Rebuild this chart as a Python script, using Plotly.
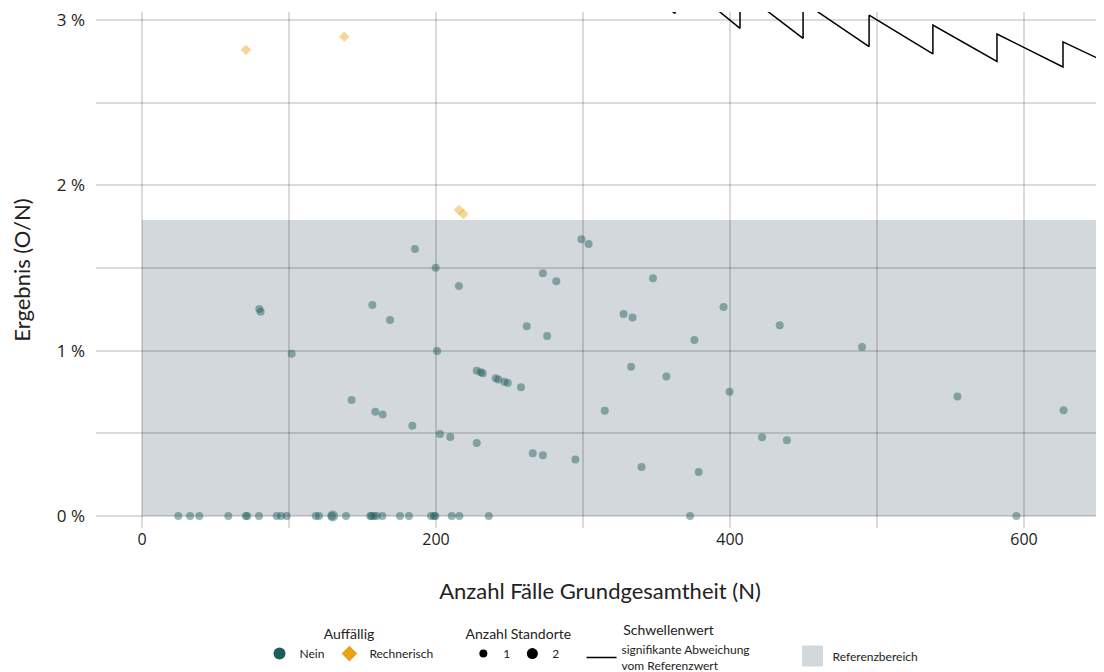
import plotly.graph_objects as go

# Fallzahlen (N) und Ergebnis (O/N in %) je Standort
nein_n = [24.7, 32.7, 39.0, 58.7, 70.6, 71.6, 79.6, 91.6, 94.6, 98.4, 118.2, 120.4, 129.2, 129.7,
          138.8, 155.3, 156.1, 157.8, 159.7, 163.5, 175.5, 181.6, 196.6, 198.6, 199.6, 210.7,
          215.9, 235.9, 372.8, 594.8,
          79.8, 80.7, 101.8, 142.6, 156.7, 158.7, 163.7, 168.7, 183.9, 185.7, 199.8, 200.7,
          202.7, 209.7, 215.6, 227.7, 227.7, 230.4, 231.8, 240.6, 242.4, 246.5, 248.8, 257.8,
          261.7, 265.8, 272.7, 272.7, 275.6, 281.8, 294.8, 298.9, 303.8, 314.8, 327.6, 332.7,
          333.7, 339.8, 347.6, 356.7, 375.8, 378.7, 395.6, 399.7, 421.8, 433.8, 438.7, 489.8,
          554.7, 626.9]
nein_y = [0] * 30 + [
          1.252, 1.236, 0.982, 0.702, 1.276, 0.631, 0.613, 1.186, 0.546, 1.615, 1.502, 0.998,
          0.496, 0.478, 1.391, 0.879, 0.442, 0.869, 0.863, 0.833, 0.825, 0.812, 0.805, 0.778,
          1.148, 0.379, 1.468, 0.367, 1.089, 1.420, 0.341, 1.674, 1.645, 0.637, 1.222, 0.903,
          1.200, 0.296, 1.438, 0.843, 1.065, 0.266, 1.264, 0.752, 0.476, 1.154, 0.458, 1.022,
          0.722, 0.639]
nein_standorte = [1] * 13 + [2] + [1] * 66

rech_n = [70.7, 137.6, 215.6, 218.6]
rech_y = [2.82, 2.90, 1.851, 1.827]

# Schwellenwert (Sägezahn der signifikanten Abweichung)
thr_n = [340, 362.6, 362.6, 406.8, 406.8, 449.7, 449.7, 494.6, 494.6, 538.0, 538.0,
         581.6, 581.6, 626.5, 626.5, 651.0]
thr_y = [3.20, 3.04, 3.27, 2.95, 3.18, 2.89, 3.11, 2.84, 3.03, 2.795, 2.97,
         2.75, 2.916, 2.716, 2.868, 2.765]

ref_n = [0, 651]
ref_y = [0, 1.79]

y_ticks = [0, 1, 2, 3]
x_ticks = [0, 200, 400, 600]

TEAL = "#1b5e5a"
GOLD = "#e8a317"
REF = "#d3d8dc"
FONT = "Lato"

sizes = {1: 8, 2: 11}

fig = go.Figure()

fig.add_shape(type="rect", x0=ref_n[0], x1=ref_n[1], y0=ref_y[0], y1=ref_y[1],
              xref="x", yref="y", layer="below", fillcolor=REF, line_width=0)

fig.add_trace(go.Scatter(x=nein_n, y=nein_y, mode="markers", showlegend=False,
                         marker=dict(color=TEAL, opacity=0.45, line_width=0,
                                     size=[sizes[s] for s in nein_standorte])))
fig.add_trace(go.Scatter(x=rech_n, y=rech_y, mode="markers", showlegend=False,
                         marker=dict(color=GOLD, opacity=0.45, symbol="diamond", size=8, line_width=0)))
fig.add_trace(go.Scatter(x=thr_n, y=thr_y, mode="lines", showlegend=False,
                         line=dict(color="black", width=1.5)))

# Legenden
fig.add_trace(go.Scatter(x=[None], y=[None], mode="markers", name="Nein", legend="legend",
                         marker=dict(color=TEAL, size=10)))
fig.add_trace(go.Scatter(x=[None], y=[None], mode="markers", name="Rechnerisch", legend="legend",
                         marker=dict(color=GOLD, size=10, symbol="diamond")))
for s in [1, 2]:
    fig.add_trace(go.Scatter(x=[None], y=[None], mode="markers", name=str(s), legend="legend2",
                             marker=dict(color="black", size=sizes[s])))
fig.add_trace(go.Scatter(x=[None], y=[None], mode="lines", legend="legend3",
                         name="signifikante Abweichung<br>vom Referenzwert",
                         line=dict(color="black", width=1.5)))
fig.add_trace(go.Scatter(x=[None], y=[None], mode="markers", legend="legend4",
                         name="Referenzbereich",
                         marker=dict(color=REF, size=16, symbol="square",
                                     line=dict(color=REF, width=5))))

leg = dict(orientation="h", yanchor="top", y=-0.18, xanchor="center",
           bgcolor="rgba(0,0,0,0)", font=dict(family=FONT, size=12, color="#222"),
           itemclick=False)

grid = "rgba(0,0,0,0.14)"

# the page puts the figure 8 px from the top-left corner, margins compensate for it
fig.update_layout(
    width=1104, height=672,
    margin=dict(l=88, r=8, t=4, b=152, autoexpand=False),
    plot_bgcolor="white", paper_bgcolor="white",
    font=dict(family=FONT, color="#222"),
    xaxis=dict(range=[-31.3, 654.4], tickvals=x_ticks, ticktext=[str(v) for v in x_ticks],
               showgrid=True, gridcolor=grid, gridwidth=1.5, zeroline=False, automargin=False,
               minor=dict(tickvals=[100, 300, 500], showgrid=True, gridcolor=grid, gridwidth=1.5),
               tickfont=dict(family="Open Sans", size=16, color="#222"),
               title=dict(text="Anzahl Fälle Grundgesamtheit (N)", font=dict(size=22), standoff=34)),
    yaxis=dict(range=[-0.073, 3.049], tickvals=y_ticks, ticktext=[f"{v} %" for v in y_ticks],
               showgrid=True, gridcolor=grid, gridwidth=1.5, zeroline=False, automargin=False,
               ticklabelstandoff=10,
               minor=dict(tickvals=[0.5, 1.5, 2.5], showgrid=True, gridcolor=grid, gridwidth=1.5),
               tickfont=dict(family="Open Sans", size=17, color="#222"),
               title=dict(text="Ergebnis (O/N)", font=dict(size=22), standoff=28)),
    legend=dict(leg, x=0.251, itemsizing="constant",
                title=dict(text="Auffällig", side="top center")),
    legend2=dict(leg, x=0.419, itemsizing="trace", entrywidth=4,
                 title=dict(text="Anzahl Standorte", side="top center")),
    legend3=dict(leg, x=0.568, y=-0.173,
                 title=dict(text="Schwellenwert", side="top center")),
    legend4=dict(leg, x=0.756, y=-0.22, itemsizing="trace"),
)

fig.write_html("out.html")
